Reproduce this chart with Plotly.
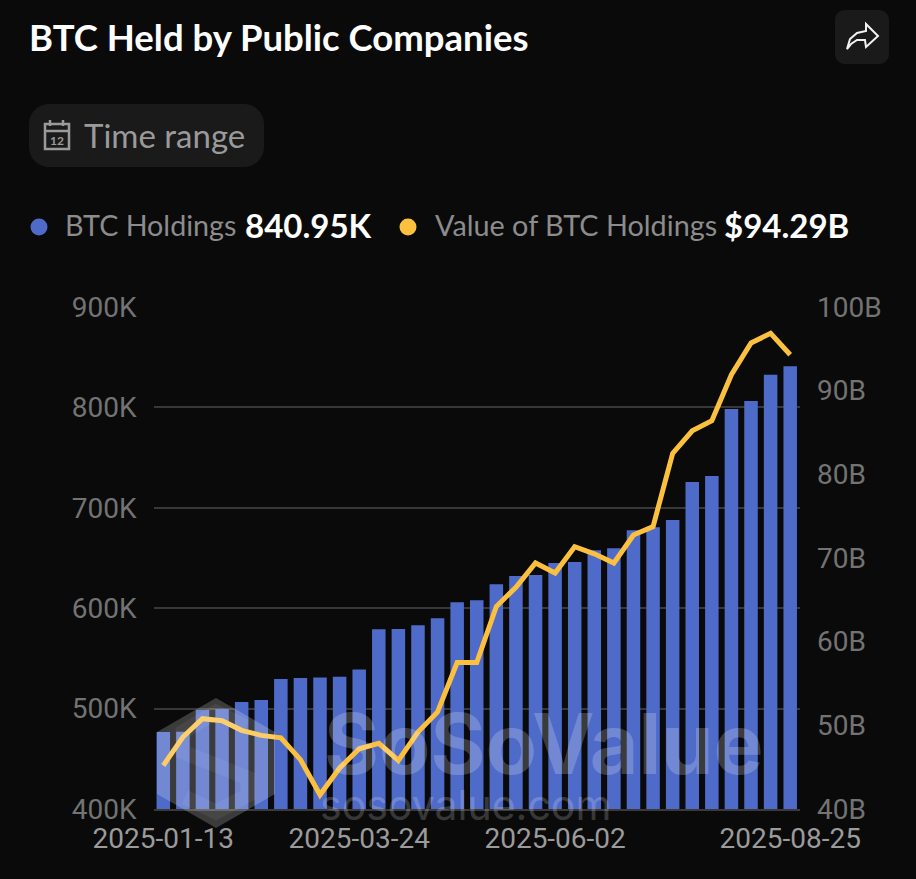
import plotly.graph_objects as go

# weekly dates, one bar each
semanas = ['2025-01-13', '2025-01-20', '2025-01-27', '2025-02-03', '2025-02-10', '2025-02-17', '2025-02-24',
           '2025-03-03', '2025-03-10', '2025-03-17', '2025-03-24', '2025-03-31', '2025-04-07', '2025-04-14',
           '2025-04-21', '2025-04-28', '2025-05-05', '2025-05-12', '2025-05-19', '2025-05-26', '2025-06-02',
           '2025-06-09', '2025-06-16', '2025-06-23', '2025-06-30', '2025-07-07', '2025-07-14', '2025-07-21',
           '2025-07-28', '2025-08-04', '2025-08-11', '2025-08-18', '2025-08-25']
rotulos_x = ['2025-01-13', '2025-03-24', '2025-06-02', '2025-08-25']

# values
btc_holdings = [476.7, 477, 498.6, 499.5, 506.6, 508.6, 529.5, 530.5, 531, 531.8, 539, 579, 579.4, 583, 590,
                606, 608, 623.8, 632, 633, 645, 646, 657.7, 659.7, 677.6, 680.6, 687.8, 725.7, 731.7, 798.4,
                806.4, 832.5, 840.95]
btc_value = [45.2, 48.6, 50.8, 50.55, 49.4, 48.8, 48.5, 45.9, 41.7, 44.9, 47.2, 47.85, 45.8, 49.2, 51.6, 57.5,
             57.5, 64.2, 66.5, 69.4, 68.2, 71.35, 70.5, 69.4, 72.75, 73.75, 82.5, 85.2, 86.4, 91.9, 95.7, 96.85,
             94.29]

W, H = 916, 879
FUNDO = '#0a0a0a'
AZUL = '#4f6bc9'
AMARELO = '#fcc03f'


def fx(x):
    return x / W


def fy(y):
    return 1 - y / H


def caminho(pontos, fechar=True):
    # pixel points -> svg path in paper coords
    d = 'M' + ' L'.join(f'{fx(x):.5f},{fy(y):.5f}' for x, y in pontos)
    return d + (' Z' if fechar else '')


def pilula(x0, y0, x1, y1, r, cor):
    k = r * 0.45
    d = (f'M{fx(x0 + r):.5f},{fy(y0):.5f} L{fx(x1 - r):.5f},{fy(y0):.5f} '
         f'C{fx(x1 - k):.5f},{fy(y0):.5f} {fx(x1):.5f},{fy(y0 + k):.5f} {fx(x1):.5f},{fy(y0 + r):.5f} '
         f'L{fx(x1):.5f},{fy(y1 - r):.5f} '
         f'C{fx(x1):.5f},{fy(y1 - k):.5f} {fx(x1 - k):.5f},{fy(y1):.5f} {fx(x1 - r):.5f},{fy(y1):.5f} '
         f'L{fx(x0 + r):.5f},{fy(y1):.5f} '
         f'C{fx(x0 + k):.5f},{fy(y1):.5f} {fx(x0):.5f},{fy(y1 - k):.5f} {fx(x0):.5f},{fy(y1 - r):.5f} '
         f'L{fx(x0):.5f},{fy(y0 + r):.5f} '
         f'C{fx(x0):.5f},{fy(y0 + k):.5f} {fx(x0 + k):.5f},{fy(y0):.5f} {fx(x0 + r):.5f},{fy(y0):.5f} Z')
    return dict(type='path', xref='paper', yref='paper', path=d, fillcolor=cor, line_width=0, layer='below')


def traco(pontos, cor, largura, fechar=False):
    return dict(type='path', xref='paper', yref='paper', path=caminho(pontos, fechar),
                line=dict(color=cor, width=largura), layer='above')


def bolinha(cx, cy, r, cor):
    return dict(type='circle', xref='paper', yref='paper', x0=fx(cx - r), x1=fx(cx + r), y0=fy(cy + r), y1=fy(cy - r),
                fillcolor=cor, line_width=0, layer='above')


def texto(x, y, s, tam, cor, fonte='Lato', anchor='left'):
    return dict(xref='paper', yref='paper', x=fx(x), y=fy(y), text=s, showarrow=False, xanchor=anchor, yanchor='middle',
                font=dict(family=fonte, size=tam, color=cor))


fig = go.Figure()
fig.add_trace(go.Bar(name='BTC Holdings', x=semanas, y=btc_holdings, marker=dict(color=AZUL, line_width=0), width=0.69))
fig.add_trace(go.Scatter(name='Value of BTC Holdings', x=semanas, y=btc_value, yaxis='y2', mode='lines',
                         line=dict(color=AMARELO, width=5)))

cinza_icone = '#9a9a9a'
formas = [
    pilula(29, 104, 264, 167, 20, '#1a1a1a'),
    pilula(835, 10, 889, 64, 10, '#1a1a1a'),
    # share arrow
    traco([(847, 49), (850, 39), (857, 33), (866, 31), (866, 24), (878, 36), (866, 47), (865, 40), (857, 40),
           (851, 44)], '#f2f2f2', 2, True),
    # calendar
    traco([(45, 124), (69, 124), (69, 149), (45, 149)], cinza_icone, 2.5, True),
    traco([(45, 131), (69, 131)], cinza_icone, 2.5),
    traco([(50, 120), (50, 126)], cinza_icone, 2.5),
    traco([(63, 120), (63, 126)], cinza_icone, 2.5),
    bolinha(39, 227, 8.5, AZUL),
    bolinha(408, 227, 8.5, AMARELO),
    # watermark
    traco([(216, 698), (275, 732), (275, 794), (216, 828), (157, 794), (157, 732)], 'rgba(255,255,255,0)', 0, True),
]
formas[-1]['fillcolor'] = 'rgba(255,255,255,0.2)'
formas.append(traco([(246, 727), (216, 712), (183, 732), (183, 752), (248, 778), (248, 795), (216, 812), (185, 797)],
                    'rgba(255,255,255,0.06)', 15))

notas = [
    texto(27, 37, '<b>BTC Held by Public Companies</b>', 36.5, '#ffffff'),
    texto(82, 135, 'Time range', 33, cinza_icone),
    texto(57, 140, '<b>12</b>', 12, cinza_icone, anchor='center'),
    texto(63, 225, 'BTC Holdings', 28.7, '#8c8c8c'),
    texto(243, 225, '<b>840.95K</b>', 33, '#ffffff'),
    texto(433, 225, 'Value of BTC Holdings', 28.8, '#8c8c8c'),
    texto(722, 225, '<b>$94.29B</b>', 33, '#ffffff'),
    texto(322, 743, '<b>SoSoValue</b>', 84, 'rgba(255,255,255,0.2)', 'Inter'),
    texto(318, 805, 'sosovalue.com', 41, 'rgba(255,255,255,0.2)', 'Inter'),
]

fig.update_layout(
    width=W, height=H,
    margin=dict(l=0, r=0, t=0, b=0, autoexpand=False),
    paper_bgcolor=FUNDO, plot_bgcolor=FUNDO,
    showlegend=False,
    shapes=formas,
    annotations=notas,
    xaxis=dict(type='category', domain=[fx(153.5), fx(800)], tickmode='array', tickvals=rotulos_x, ticktext=rotulos_x,
               tickangle=0, showgrid=False, zeroline=False, linecolor='#3a3a3a', linewidth=2, ticks='', anchor='y',
               automargin=False, ticklabelstandoff=3,
               tickfont=dict(family='Roboto', size=28, color='#9b9b9b')),
    yaxis=dict(domain=[fy(809), fy(307)], range=[400, 900], dtick=100, ticksuffix='K', gridcolor='#383838',
               gridwidth=2, zeroline=False, showline=False, automargin=False, ticklabelstandoff=16,
               tickfont=dict(family='Roboto', size=28, color='#737373')),
    yaxis2=dict(overlaying='y', side='right', range=[40, 100], dtick=10, ticksuffix='B', showgrid=False,
                zeroline=False, showline=False, automargin=False, ticklabelstandoff=16,
                tickfont=dict(family='Roboto', size=28, color='#737373')),
)

fig.write_html("out.html", config=dict(displayModeBar=False), post_script="document.body.style.margin='0';")
